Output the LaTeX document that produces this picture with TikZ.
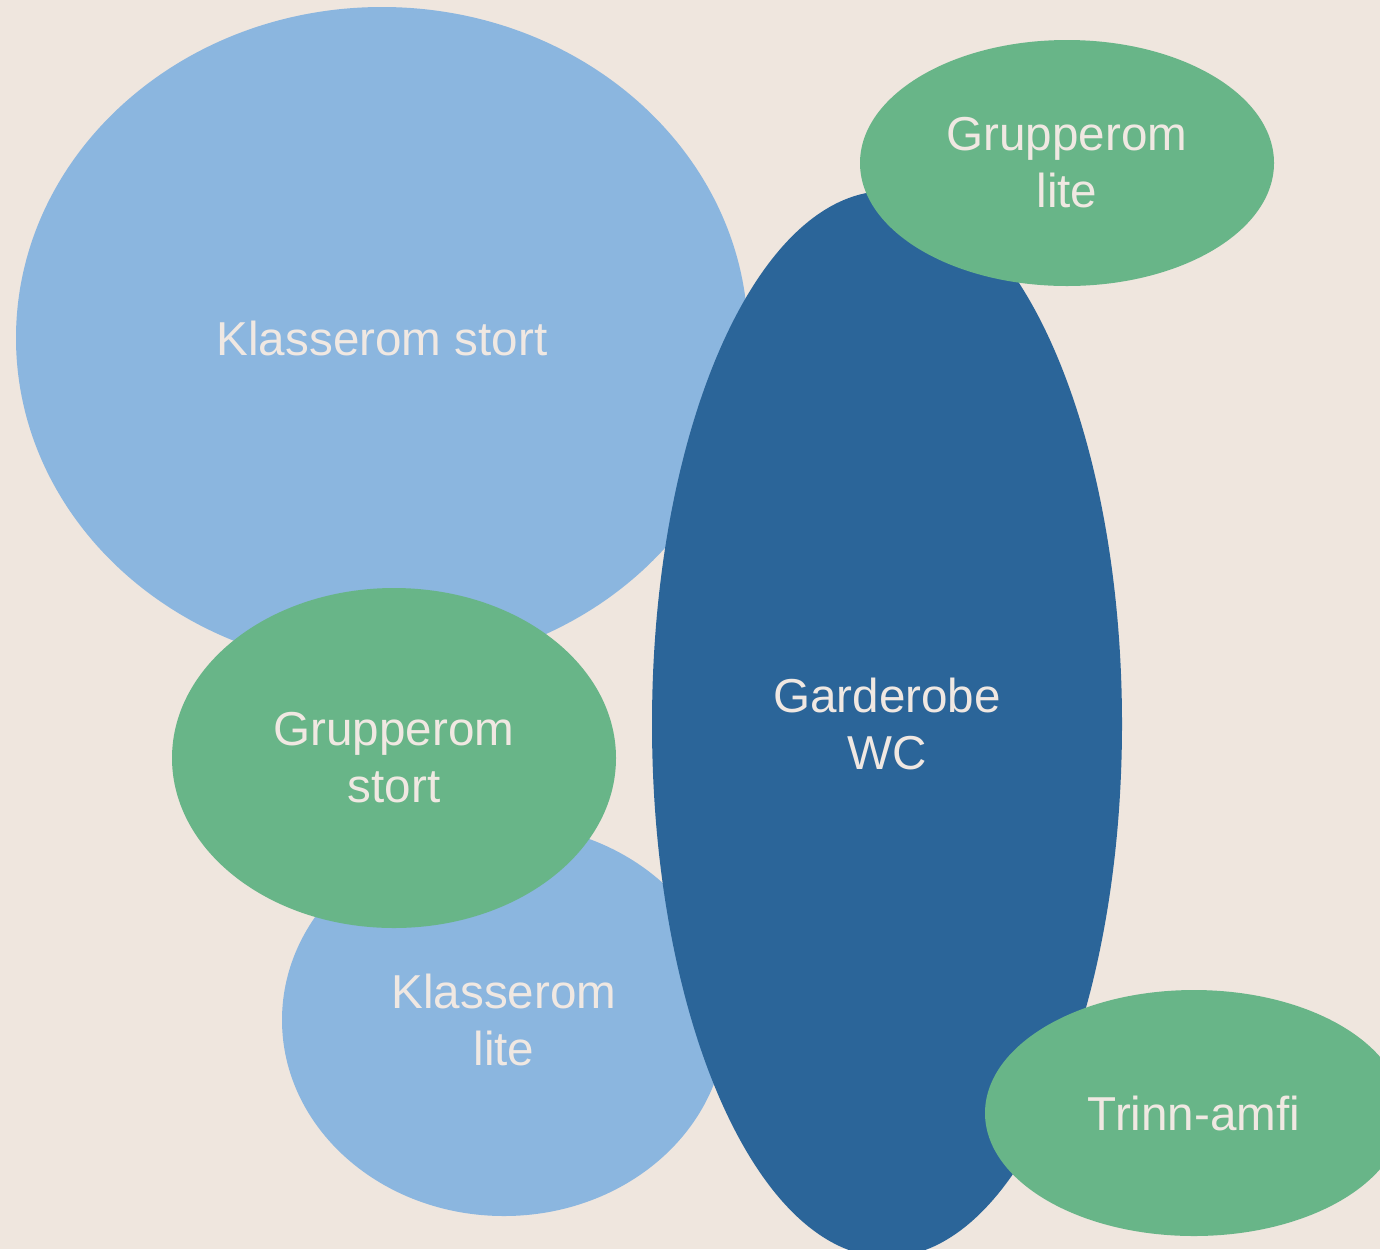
\documentclass[tikz,border=0pt]{standalone}
\usepackage{xcolor}
\usepackage{fontspec}
\setmainfont{Liberation Sans}
\usetikzlibrary{shapes.geometric}

\definecolor{bgbeige}{RGB}{239,230,222}
\definecolor{lightblue}{RGB}{139,182,223}
\definecolor{darkblue}{RGB}{43,101,153}
\definecolor{roomgreen}{RGB}{104,181,136}
\definecolor{labelbeige}{RGB}{240,232,226}

\tikzset{
  room/.style={ellipse, inner sep=0pt, text=labelbeige, align=center,
    font=\fontsize{23.8}{28.5}\selectfont},
}

\begin{document}
\begin{tikzpicture}[x=0.5pt, y=-0.5pt]

% Background
\fill[bgbeige] (0,0) rectangle (1380,1249) ;
\useasboundingbox (0,0) rectangle (1380,1249) ;

% Nodes 
\node[room, fill=lightblue, minimum width=366pt, minimum height=331pt] at (382, 338) (kstort) {Klasserom stort} ; 
\node[room, fill=lightblue, minimum width=222pt, minimum height=196pt] at (504, 1020) (klite) {Klasserom\\lite} ; 
\node[room, fill=darkblue, minimum width=235pt, minimum height=533pt] at (887, 724) (gard) {Garderobe\\WC} ; 
\node[room, fill=roomgreen, minimum width=222pt, minimum height=170pt] at (394, 758) (gstort) {Grupperom\\stort} ; 
\node[room, fill=roomgreen, minimum width=207pt, minimum height=123pt] at (1067, 163) (glite) {Grupperom\\lite} ; 
\node[room, fill=roomgreen, minimum width=209pt, minimum height=123pt] at (1194, 1113) (amfi) {Trinn-amfi} ; 

\end{tikzpicture}
\end{document}
